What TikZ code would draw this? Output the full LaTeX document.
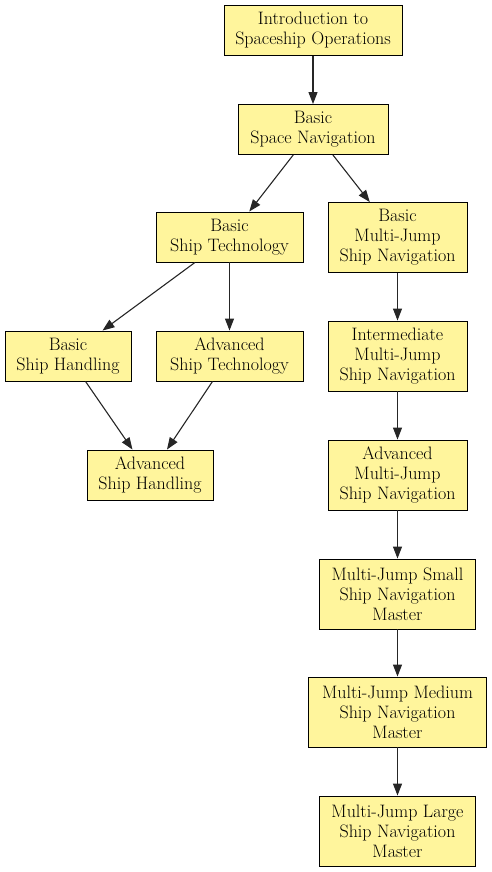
\documentclass[tikz,border=0pt]{standalone}
\usetikzlibrary{arrows.meta}
\definecolor{course}{HTML}{FFF59C}

\begin{document}
\begin{tikzpicture}[x=1pt, y=-1pt, >={Triangle[length=12pt,width=9pt]},
    font=\rmfamily\fontsize{18}{20}\selectfont,
    box/.style={draw, line width=0.9pt, fill=course, minimum width=#1,
                inner sep=0pt, align=center},
    two/.style={minimum height=50pt},
    three/.style={minimum height=70pt},
    link/.style={->, line width=1.1pt, black!85}]
  \useasboundingbox (0,0) rectangle (492,872);
  %% Common start
  \node[box=178pt, two] (intro) at (313,30.5) {Introduction to\\Spaceship Operations};
  \node[box=150pt, two] (nav)   at (313,129.5) {Basic\\Space Navigation};
  %% Ship track
  \node[box=147pt, two] (stech) at (229.5,237) {Basic\\Ship Technology};
  \node[box=126pt, two] (shand) at (68,356)    {Basic\\Ship Handling};
  \node[box=147pt, two] (atech) at (229.5,356) {Advanced\\Ship Technology};
  \node[box=126pt, two] (ahand) at (150,475)   {Advanced\\Ship Handling};
  %% Multi-jump track
  \node[box=139pt, three] (mjbas) at (397.5,237.5) {Basic\\Multi-Jump\\Ship Navigation};
  \node[box=139pt, three] (mjint) at (397.5,356)   {Intermediate\\Multi-Jump\\Ship Navigation};
  \node[box=139pt, three] (mjadv) at (397.5,475)   {Advanced\\Multi-Jump\\Ship Navigation};
  \node[box=156pt, three] (mjsma) at (397.5,594)   {Multi-Jump Small\\Ship Navigation\\Master};
  \node[box=178pt, three] (mjmed) at (397.5,712)   {Multi-Jump Medium\\Ship Navigation\\Master};
  \node[box=156pt, three] (mjlar) at (397.5,831)   {Multi-Jump Large\\Ship Navigation\\Master};
  %% Arrows
  \draw[link] (intro) -- (nav);
  \draw[link] (nav) -- (stech);
  \draw[link] (nav) -- (mjbas);
  \draw[link] (stech) -- (shand);
  \draw[link] (stech) -- (atech);
  \draw[link] (shand) -- (ahand);
  \draw[link] (atech) -- (ahand);
  \foreach \a/\b in {mjbas/mjint, mjint/mjadv, mjadv/mjsma, mjsma/mjmed, mjmed/mjlar}{
    \draw[link] (\a) -- (\b);
  }
\end{tikzpicture}
\end{document}
